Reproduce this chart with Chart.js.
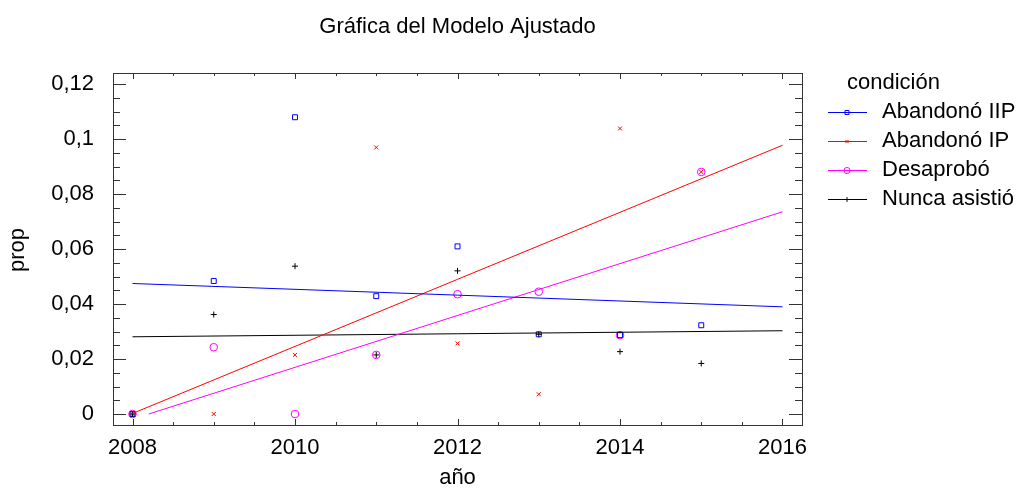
<!DOCTYPE html>
<html>
<head>
<meta charset="utf-8">
<script src="https://cdn.jsdelivr.net/npm/chart.js@4.4.1/dist/chart.umd.min.js"></script>
<style>
  html, body { margin: 0; padding: 0; background: #fff; }
  #wrap { width: 1016px; height: 488px; }
</style>
</head>
<body>
<div id="wrap"><canvas id="chart" width="1016" height="488"></canvas></div>
<script>
// Data
const years = [2008, 2009, 2010, 2011, 2012, 2013, 2014, 2015];
const abandonoIIP = [0, 0.0484, 0.108, 0.0429, 0.061, 0.029, 0.0287, 0.0323];
const abandonoIP = [0, 0, 0.0215, 0.097, 0.0257, 0.0072, 0.1039, 0.0881];
const desaprobo = [0, 0.0243, 0, 0.0215, 0.0436, 0.0445, 0.0287, 0.0881];
const nuncaAsistio = [0, 0.0362, 0.0538, 0.0215, 0.0521, 0.029, 0.0227, 0.0184];

// Fitted lines (endpoints)
const fitYears = [2008, 2016];
const fitIIP = [0.0475, 0.039];
const fitIP = [0.0002, 0.0978];
const fitDesYears = [2008.2, 2016];
const fitDes = [0, 0.0736];
const fitNunca = [0.0281, 0.0303];

const xTicks = [2008, 2010, 2012, 2014, 2016];
const yTicks = [0, 0.02, 0.04, 0.06, 0.08, 0.1, 0.12];

const seriesNames = ['Abandonó IIP', 'Abandonó IP', 'Desaprobó', 'Nunca asistió'];
const seriesColors = ['#0000ff', '#ff0000', '#ff00ff', '#000000'];
const seriesStyles = ['rect', 'crossRot', 'circle', 'cross'];
const seriesRadius = [3.5, 2.8, 3.8, 3];

const FONT = 'Liberation Sans, Arial, sans-serif';
const FSIZE = 22;

function pts(xs, ys) {
  return xs.map((x, i) => ({ x: x, y: ys[i] }));
}

const pointSets = [abandonoIIP, abandonoIP, desaprobo, nuncaAsistio];
const fitSets = [
  pts(fitYears, fitIIP),
  pts(fitYears, fitIP),
  pts(fitDesYears, fitDes),
  pts(fitYears, fitNunca)
];

const datasets = [];
fitSets.forEach((d, i) => {
  datasets.push({
    label: seriesNames[i] + ' ajuste',
    data: d,
    showLine: true,
    borderColor: seriesColors[i],
    borderWidth: 1,
    pointRadius: 0,
    fill: false
  });
});
// draw order: black, blue, magenta, red so overlaps look like the picture
[3, 0, 2, 1].forEach(i => {
  datasets.push({
    label: seriesNames[i],
    data: pts(years, pointSets[i]),
    showLine: false,
    pointStyle: seriesStyles[i],
    pointRadius: seriesRadius[i],
    borderColor: seriesColors[i],
    backgroundColor: 'rgba(0,0,0,0)',
    pointBorderWidth: 1
  });
});

function fmtY(v) {
  if (v === 0) return '0';
  return String(Math.round(v * 1000) / 1000).replace('.', ',');
}

// frame, inward ticks, titles and legend
const decorPlugin = {
  id: 'decor',
  afterDraw(chart) {
    const ctx = chart.ctx;
    const a = chart.chartArea;
    const xs = chart.scales.x;
    const ys = chart.scales.y;
    ctx.save();
    ctx.strokeStyle = '#333';
    ctx.lineWidth = 1;
    ctx.strokeRect(Math.round(a.left) + 0.5, Math.round(a.top) + 0.5,
      Math.round(a.right - a.left), Math.round(a.bottom - a.top));

    ctx.beginPath();
    // x ticks every half year, major every 2 years
    for (let v = 2008; v <= 2016.001; v += 0.5) {
      const px = Math.round(xs.getPixelForValue(v)) + 0.5;
      const len = (Math.abs(v % 2) < 0.001) ? 6 : 3;
      ctx.moveTo(px, a.bottom); ctx.lineTo(px, a.bottom - len);
      ctx.moveTo(px, a.top); ctx.lineTo(px, a.top + len);
    }
    // y ticks every 0.005, major every 0.02
    for (let k = 0; k <= 24; k++) {
      const v = k * 0.005;
      const py = Math.round(ys.getPixelForValue(v)) + 0.5;
      const len = (k % 4 === 0) ? 13 : 7;
      ctx.moveTo(a.left, py); ctx.lineTo(a.left + len, py);
      ctx.moveTo(a.right, py); ctx.lineTo(a.right - len, py);
    }
    ctx.stroke();

    ctx.fillStyle = '#000';
    ctx.font = FSIZE + 'px ' + FONT;
    ctx.textBaseline = 'middle';
    ctx.textAlign = 'center';
    ctx.fillText('Gráfica del Modelo Ajustado', (a.left + a.right) / 2, 27);
    ctx.fillText('año', (a.left + a.right) / 2, 478);
    ctx.save();
    ctx.translate(18, 250);
    ctx.rotate(-Math.PI / 2);
    ctx.fillText('prop', 0, 0);
    ctx.restore();

    // legend
    ctx.textAlign = 'left';
    ctx.fillText('condición', 847, 83);
    const rowY = [112, 141, 170, 199];
    seriesNames.forEach((name, i) => {
      const y = rowY[i];
      ctx.strokeStyle = seriesColors[i];
      ctx.lineWidth = 1;
      ctx.beginPath();
      ctx.moveTo(828, y + 0.5); ctx.lineTo(867, y + 0.5);
      ctx.stroke();
      ctx.fillStyle = 'rgba(0,0,0,0)';
      Chart.helpers.drawPoint(ctx, {
        pointStyle: seriesStyles[i],
        radius: seriesRadius[i] * 0.8,
        rotation: 0,
        borderWidth: 1
      }, 847, y + 0.5);
      ctx.fillStyle = '#000';
      ctx.fillText(name, 882, y);
    });
    ctx.restore();
  }
};

new Chart(document.getElementById('chart'), {
  type: 'scatter',
  data: { datasets: datasets },
  options: {
    responsive: false,
    animation: false,
    layout: { padding: { top: 73, right: 214, left: 0, bottom: 0 } },
    plugins: {
      legend: { display: false },
      title: { display: false },
      tooltip: { enabled: false }
    },
    scales: {
      x: {
        type: 'linear',
        min: 2007.76,
        max: 2016.24,
        afterBuildTicks(scale) { scale.ticks = xTicks.map(v => ({ value: v })); },
        afterFit(scale) { scale.height = 63; },
        grid: { display: false },
        border: { display: false },
        ticks: {
          color: '#000',
          padding: 2,
          maxRotation: 0,
          font: { family: FONT, size: FSIZE },
          callback: v => String(v)
        }
      },
      y: {
        type: 'linear',
        min: -0.004,
        max: 0.1241,
        afterBuildTicks(scale) { scale.ticks = yTicks.map(v => ({ value: v })); },
        afterFit(scale) { scale.width = 113; },
        grid: { display: false },
        border: { display: false },
        ticks: {
          color: '#000',
          padding: 11,
          font: { family: FONT, size: FSIZE },
          callback: v => fmtY(v)
        }
      }
    }
  },
  plugins: [decorPlugin]
});
</script>
</body>
</html>
